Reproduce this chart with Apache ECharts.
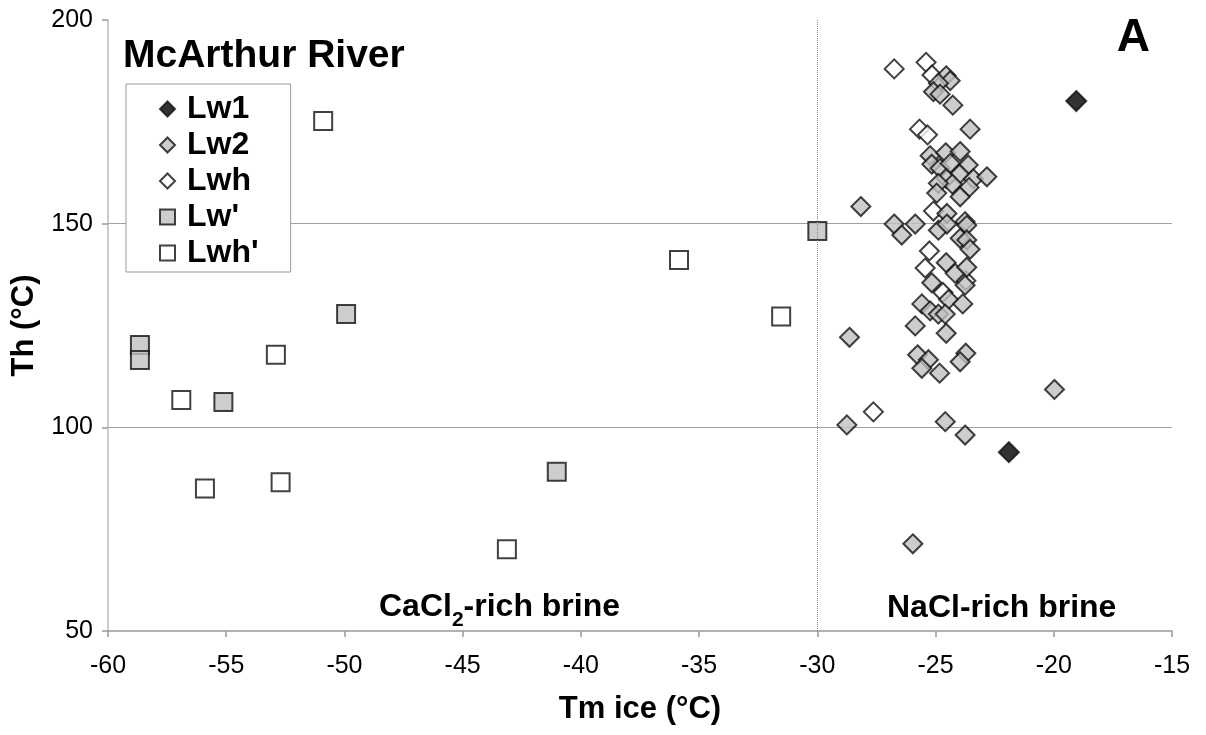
<!DOCTYPE html>
<html>
<head>
<meta charset="utf-8">
<script src="https://cdn.jsdelivr.net/npm/echarts@6/dist/echarts.min.js"></script>
<style>
  html, body { margin: 0; padding: 0; background: #fff; }
  #chart { width: 1206px; height: 735px; }
</style>
</head>
<body>
<div id="chart"></div>
<script>
// ---- Data (Tm ice °C, Th °C) ----
const xMin = -60, xMax = -15, xInterval = 5;
const yMin = 50, yMax = 200, yInterval = 50;
const boundaryX = -30;

const lw1 = [[-19.05, 180.1], [-21.9, 93.9]];

const lw2 = [
  [-24.55, 186.3], [-24.38, 185.1], [-24.88, 184.5], [-25.09, 182.4], [-24.81, 181.8],
  [-24.27, 179.1], [-23.54, 173.2], [-28.16, 154.2], [-25.23, 166.7], [-24.57, 167.4],
  [-23.96, 167.7], [-25.16, 164.6], [-24.81, 163.6], [-24.38, 164.8], [-23.62, 164.4],
  [-23.98, 162.2], [-23.40, 161.0], [-22.83, 161.5], [-24.55, 161.1], [-24.29, 159.7],
  [-24.88, 159.9], [-23.58, 158.9], [-24.95, 157.5], [-23.96, 156.6], [-24.52, 152.5],
  [-26.75, 149.9], [-25.86, 149.9], [-24.88, 148.4], [-24.52, 149.9], [-23.75, 150.5],
  [-23.68, 149.6], [-26.43, 147.2], [-23.96, 146.4], [-23.68, 146.0], [-23.54, 143.7],
  [-24.55, 140.4], [-24.17, 137.8], [-23.68, 139.3], [-23.75, 134.9], [-25.16, 135.5],
  [-24.45, 131.4], [-25.58, 130.3], [-25.23, 128.6], [-24.88, 127.8], [-24.59, 127.8],
  [-23.85, 130.3], [-25.86, 124.9], [-24.55, 123.1], [-28.64, 122.1], [-25.76, 117.8],
  [-25.30, 116.6], [-25.58, 114.5], [-24.83, 113.3], [-23.72, 118.2], [-23.96, 116.1],
  [-19.97, 109.3], [-28.75, 100.6], [-24.59, 101.4], [-23.75, 98.1], [-25.96, 71.4]
];

const lwh = [
  [-26.75, 188.0], [-25.4, 189.6], [-25.15, 186.5], [-25.68, 173.2], [-25.34, 171.8],
  [-25.09, 153.1], [-25.26, 143.3], [-25.44, 139.1], [-23.72, 136.0], [-24.69, 133.1],
  [-27.63, 103.8]
];

const lwPrime = [
  [-30.0, 148.2], [-49.93, 127.8], [-58.65, 120.2], [-58.65, 116.5], [-55.12, 106.2],
  [-41.02, 89.1]
];

const lwhPrime = [
  [-50.9, 175.2], [-52.9, 117.8], [-56.9, 106.7], [-55.9, 85.0], [-52.7, 86.5],
  [-43.13, 70.1], [-35.85, 141.1], [-31.53, 127.2]
];

const seriesNames = ['Lw1', 'Lw2', 'Lwh', "Lw'", "Lwh'"];

// ---- Chart ----
const FONT = '"Liberation Sans", Arial, sans-serif';
const chart = echarts.init(document.getElementById('chart'), null, { renderer: 'canvas' });

const border = { borderColor: '#111', borderWidth: 2 };

const option = {
  backgroundColor: '#ffffff',
  animation: false,
  textStyle: { fontFamily: FONT },
  grid: { left: 108, right: 34, top: 20, bottom: 104, containLabel: false },
  legend: {
    orient: 'vertical',
    left: 126,
    top: 84,
    data: seriesNames,
    backgroundColor: '#ffffff',
    borderColor: '#9a9a9a',
    borderWidth: 1,
    padding: [9, 32, 3, 33],
    itemGap: 4,
    itemWidth: 15,
    itemHeight: 15,
    textStyle: { fontFamily: FONT, fontSize: 32, fontWeight: 'bold', color: '#000', lineHeight: 32, padding: [0, 0, 0, 7] }
  },
  xAxis: {
    type: 'value',
    min: xMin, max: xMax, interval: xInterval,
    name: 'Tm ice (°C)',
    nameLocation: 'middle',
    nameGap: 63,
    nameTextStyle: { fontFamily: FONT, fontSize: 31, fontWeight: 'bold', color: '#000' },
    axisLine: { show: true, onZero: false, lineStyle: { color: '#999', width: 1.5 } },
    axisTick: { show: true, length: 6, inside: false, lineStyle: { color: '#999', width: 1.5 } },
    axisLabel: { fontFamily: FONT, fontSize: 25, color: '#000', margin: 23 },
    splitLine: { show: false }
  },
  yAxis: {
    type: 'value',
    min: yMin, max: yMax, interval: yInterval,
    name: 'Th (°C)',
    nameLocation: 'middle',
    nameGap: 58,
    nameRotate: 90,
    nameTextStyle: { fontFamily: FONT, fontSize: 31, fontWeight: 'bold', color: '#000' },
    axisLine: { show: true, lineStyle: { color: '#bbb', width: 1.5 } },
    axisTick: { show: true, length: 6, inside: false, lineStyle: { color: '#999', width: 1.5 } },
    axisLabel: { fontFamily: FONT, fontSize: 25, color: '#000', margin: 15 },
    splitLine: { show: true, showMinLine: false, showMaxLine: false, lineStyle: { color: '#a0a0a0', width: 1.2 } }
  },
  series: [
    {
      name: "Lw'", type: 'scatter', data: lwPrime, symbol: 'rect', symbolSize: 18, z: 3,
      itemStyle: Object.assign({ color: '#c0c0c0' }, border),
      markLine: {
        silent: true, symbol: ['none', 'none'], label: { show: false },
        lineStyle: { type: 'dotted', color: '#888', width: 1 },
        data: [{ xAxis: boundaryX }]
      }
    },
    {
      name: "Lwh'", type: 'scatter', data: lwhPrime, symbol: 'rect', symbolSize: 18, z: 3,
      itemStyle: Object.assign({ color: '#ffffff' }, border)
    },
    {
      name: 'Lwh', type: 'scatter', data: lwh, symbol: 'diamond', symbolSize: 19, z: 4,
      itemStyle: Object.assign({ color: '#ffffff' }, border)
    },
    {
      name: 'Lw2', type: 'scatter', data: lw2, symbol: 'diamond', symbolSize: 19, z: 5,
      itemStyle: Object.assign({ color: '#c0c0c0' }, border)
    },
    {
      name: 'Lw1', type: 'scatter', data: lw1, symbol: 'diamond', symbolSize: 20, z: 6,
      itemStyle: Object.assign({ color: '#000000' }, border)
    }
  ],
  graphic: [
    {
      type: 'text', left: 123, top: 37, z: 100,
      style: { text: 'McArthur River', fontFamily: FONT, fontSize: 39, fontWeight: 'bold', fill: '#000' }
    },
    {
      type: 'text', right: 56, top: 15, z: 100,
      style: { text: 'A', fontFamily: FONT, fontSize: 46, fontWeight: 'bold', fill: '#000' }
    },
    {
      type: 'text', left: 379, top: 591, z: 100,
      style: {
        text: '{a|CaCl}{s|2}{a|-rich brine}',
        rich: {
          a: { fontFamily: FONT, fontSize: 32, fontWeight: 'bold', fill: '#000', verticalAlign: 'bottom', lineHeight: 34 },
          s: { fontFamily: FONT, fontSize: 21, fontWeight: 'bold', fill: '#000', verticalAlign: 'bottom', lineHeight: 34, padding: [0, 0, -8, 0] }
        }
      }
    },
    {
      type: 'text', left: 887, top: 592, z: 100,
      style: { text: 'NaCl-rich brine', fontFamily: FONT, fontSize: 32, fontWeight: 'bold', fill: '#000' }
    }
  ]
};

chart.setOption(option);
</script>
</body>
</html>
